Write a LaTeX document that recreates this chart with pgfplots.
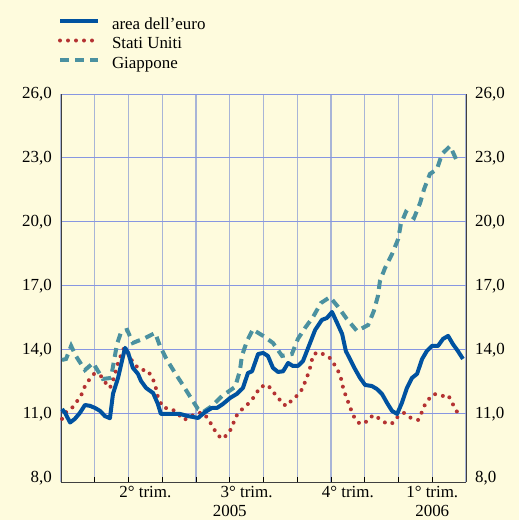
\documentclass[border=0pt]{standalone}
\usepackage{fontspec}
\setmainfont{Liberation Serif}
\usepackage{pgfplots}
\pgfplotsset{compat=1.18}
\definecolor{bg}{RGB}{254,251,221}
\definecolor{hgrid}{RGB}{135,150,225}
\definecolor{vgrid}{RGB}{168,180,215}
\definecolor{euro}{RGB}{0,82,160}
\definecolor{usa}{RGB}{180,50,50}
\definecolor{jpn}{RGB}{75,145,160}
\newcommand{\ff}{\fontsize{17}{20}\selectfont}
\begin{document}
\begin{tikzpicture}
\fill[bg] (0,0) rectangle (519bp,-520bp);
\begin{axis}[
  at={(61bp,-482bp)}, anchor=south west,
  width=405bp, height=388bp, scale only axis,
  xmin=0, xmax=12, ymin=7.81, ymax=26,
  clip=false,
  axis x line*=bottom, axis y line*=left,
  axis line style={draw=black!75, line width=1bp},
  font=\ff,
  xtick={0,...,12}, xticklabels={},
  tick align=inside, major tick length=5bp,
  xtick style={black, line width=1bp},
  ytick={11,14,...,26}, ytick style={draw=none},
  extra y ticks={8}, extra y tick style={grid=none, major tick length=0pt},
  extra x ticks={2.5,5.5,8.5,11},
  extra x tick labels={2° trim.,3° trim.,4° trim.,1° trim.},
  extra x tick style={grid=none, major tick length=0pt},
  xticklabel style={inner sep=0.5bp, yshift=-4bp},
  xmajorgrids, ymajorgrids,
  x grid style={vgrid, line width=1.3bp},
  y grid style={hgrid, line width=1bp},
  /pgf/number format/fixed,
  /pgf/number format/fixed zerofill,
  /pgf/number format/precision=1,
  /pgf/number format/use comma,
  /pgf/number format/assume math mode=true,
  yticklabel style={anchor=east, inner sep=0pt, xshift=-9bp},
  reverse legend,
  legend style={at={(0,1)}, anchor=north west, xshift=-3bp, yshift=77bp,
    draw=none, fill=none, inner sep=0pt, outer sep=0pt,
    column sep=12bp, row sep=3.5bp,
    nodes={inner sep=0pt, text height=12bp, text depth=4bp}, font=\ff},
  legend cell align=left,
  legend image code/.code={\draw[#1] (0bp,4bp) -- (38bp,4bp);},
]
\addplot[draw=jpn, line width=4bp, dash pattern=on 9bp off 6bp] coordinates {
(0.03,13.53)(0.15,13.58)(0.30,14.19)(0.44,13.72)(0.71,13.06)(0.95,13.39)(1.24,12.64)(1.48,12.69)(1.57,13.48)(1.66,14.28)(1.78,14.84)(1.96,14.94)(2.13,14.33)(2.49,14.56)(2.79,14.8)(2.93,14.19)(3.14,13.53)(3.38,12.92)(3.61,12.36)(3.85,11.75)(4.06,11.23)(4.21,11.09)(4.47,11.37)(4.77,11.84)(5.16,12.27)(5.30,13.02)(5.36,13.72)(5.51,14.42)(5.69,14.98)(5.75,14.89)(5.99,14.66)(6.28,14.33)(6.55,13.72)(6.84,13.81)(7.02,14.52)(7.23,15.03)(7.47,15.55)(7.70,16.2)(7.97,16.48)(8.21,16.02)(8.47,15.45)(8.77,14.89)(9.10,15.17)(9.27,15.83)(9.39,16.53)(9.45,17.23)(9.60,17.84)(9.81,18.5)(9.99,19.2)(10.07,19.9)(10.22,20.47)(10.46,20.19)(10.64,20.89)(10.76,21.55)(10.93,22.25)(11.14,22.48)(11.29,23.19)(11.53,23.56)(11.73,22.86)
};
\addlegendentry{Giappone}
\addplot[draw=usa, line width=4bp, line cap=round, dash pattern=on 0bp off 8bp] coordinates {
(0.03,10.77)(0.12,11.05)(0.30,11.23)(0.44,11.52)(0.59,11.84)(0.68,12.22)(0.83,12.59)(0.98,12.88)(1.16,12.83)(1.30,12.5)(1.45,12.22)(1.57,12.69)(1.69,13.39)(1.78,13.77)(1.87,14.1)(1.96,13.95)(2.07,13.58)(2.19,13.3)(2.37,13.06)(2.55,13.06)(2.70,12.73)(2.79,12.36)(2.87,11.8)(3.02,11.3)(3.29,11.23)(3.47,11.0)(3.64,10.72)(3.82,10.86)(4.03,11.05)(4.21,11.05)(4.36,10.77)(4.50,10.39)(4.62,10.06)(4.77,9.83)(4.95,10.06)(5.07,10.39)(5.16,10.81)(5.27,11.09)(5.45,11.33)(5.63,11.61)(5.78,11.94)(5.90,12.27)(6.13,12.36)(6.28,12.03)(6.43,11.8)(6.55,11.47)(6.70,11.38)(6.84,11.66)(7.02,11.89)(7.17,12.22)(7.26,12.64)(7.35,12.97)(7.47,13.77)(7.61,13.9)(7.76,13.81)(7.97,13.62)(8.09,13.34)(8.21,13.02)(8.30,12.64)(8.36,12.22)(8.44,11.84)(8.53,11.47)(8.62,11.09)(8.71,10.77)(8.86,10.53)(9.10,10.67)(9.24,10.95)(9.45,10.77)(9.66,10.53)(9.84,10.58)(9.99,10.9)(10.16,11.05)(10.37,10.81)(10.58,10.72)(10.67,11.0)(10.76,11.37)(10.90,11.7)(11.05,11.94)(11.29,11.84)(11.47,11.89)(11.59,11.52)(11.70,11.19)(11.85,10.81)
};
\addlegendentry{Stati Uniti}
\addplot[draw=euro, line width=4bp, line join=round] coordinates {
(0.03,11.23)(0.12,11.05)(0.27,10.6)(0.41,10.77)(0.56,11.05)(0.71,11.42)(0.86,11.38)(1.01,11.28)(1.16,11.14)(1.30,10.9)(1.45,10.8)(1.54,11.94)(1.69,12.69)(1.84,13.72)(1.90,14.1)(1.99,13.86)(2.13,13.16)(2.28,12.88)(2.37,12.55)(2.52,12.22)(2.73,11.98)(2.87,11.47)(2.96,11.0)(3.17,11.0)(3.38,11.0)(3.53,11.0)(3.76,10.9)(3.91,10.86)(4.06,10.81)(4.27,11.09)(4.47,11.28)(4.62,11.28)(4.80,11.47)(5.01,11.75)(5.21,11.94)(5.39,12.22)(5.54,12.92)(5.66,13.0)(5.84,13.81)(5.99,13.86)(6.13,13.72)(6.28,13.16)(6.43,12.97)(6.58,13.0)(6.73,13.39)(6.87,13.25)(7.02,13.25)(7.17,13.48)(7.38,14.33)(7.53,14.94)(7.73,15.41)(7.88,15.5)(8.03,15.78)(8.18,15.27)(8.33,14.75)(8.44,13.95)(8.56,13.58)(8.71,13.11)(8.86,12.69)(9.01,12.36)(9.21,12.31)(9.36,12.17)(9.51,11.94)(9.66,11.52)(9.81,11.14)(9.96,11.0)(10.10,11.52)(10.25,12.22)(10.40,12.69)(10.55,12.88)(10.70,13.58)(10.84,13.95)(10.99,14.19)(11.17,14.19)(11.32,14.52)(11.47,14.66)(11.61,14.28)(11.76,13.95)(11.91,13.58)
};
\addlegendentry{area dell’euro}
\node[anchor=north, inner sep=0pt, font=\ff] at (axis cs:5,7.81) [yshift=-23bp] {2005};
\node[anchor=north, inner sep=0pt, font=\ff] at (axis cs:11,7.81) [yshift=-23bp] {2006};
\end{axis}
\begin{axis}[
  at={(61bp,-482bp)}, anchor=south west,
  width=405bp, height=388bp, scale only axis,
  xmin=0, xmax=12, ymin=7.81, ymax=26,
  axis x line=none, axis y line*=right,
  axis line style={draw=black!75, line width=1bp},
  font=\ff,
  ytick={8,11,...,26}, ytick style={draw=none},
  /pgf/number format/fixed,
  /pgf/number format/fixed zerofill,
  /pgf/number format/precision=1,
  /pgf/number format/use comma,
  /pgf/number format/assume math mode=true,
  yticklabel style={anchor=west, inner sep=0pt, xshift=9bp},
]
\end{axis}
\end{tikzpicture}
\end{document}
